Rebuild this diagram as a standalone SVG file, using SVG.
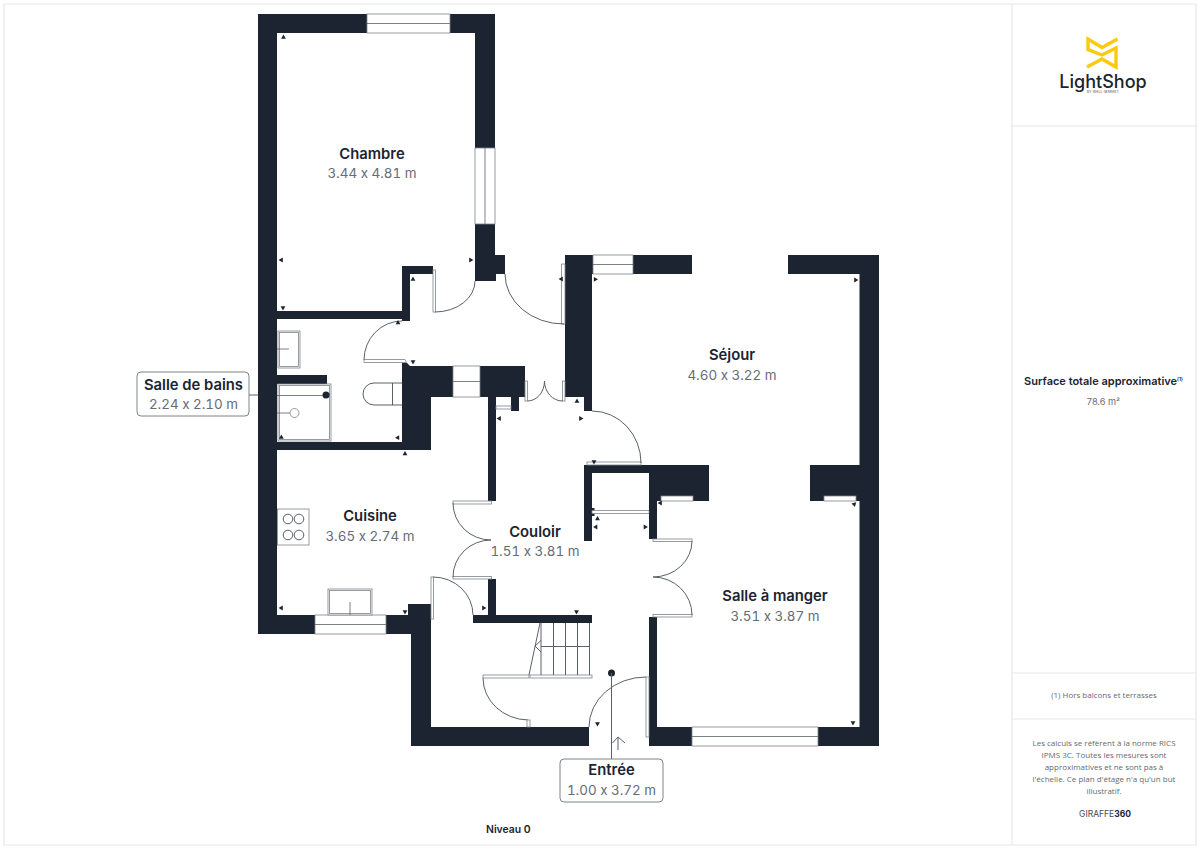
<svg xmlns="http://www.w3.org/2000/svg" xmlns:xlink="http://www.w3.org/1999/xlink" width="1200" height="849" viewBox="0 0 1200 849">
<style>
.w{fill:#1b2430}
.l{fill:none;stroke:#5b6168;stroke-width:.8}
.f{fill:#fff;stroke:#7d838a;stroke-width:.8}
.d{fill:none;stroke:#5b6168;stroke-width:1}
.p{fill:none;stroke:#e8e8e8;stroke-width:1.2}
.n{font:600 14.800px Inter,"Liberation Sans",sans-serif;fill:#1b2430;text-anchor:middle}
.m{font:400 13.400px Inter,"Liberation Sans",sans-serif;fill:#666c74;text-anchor:middle;font-feature-settings:"tnum" 1,"calt" 0}
.s{font:400 8px "Open Sans","Liberation Sans",sans-serif;fill:#666a70;text-anchor:middle}
.k{fill:#1b2430}
</style>
<defs><path id="t" class="k" d="M-2.400-1.800H2.400L0 2.400Z"/></defs>
<rect width="1200" height="849" fill="#fff"/>
<path class="p" d="M4 4H1196V845H4ZM1012 4V845M1012 126H1196M1012 673H1196M1012 719H1196"/>

<g id="walls">
<path class="w" d="M258 14H367V33H277V311H402V266H433V274H410V321H402V319H277V375H327V384H277V442H402V363H407L410 366H453V397H431V450H277V615H315V634H258Z"/>
<path class="w" d="M450 14H495V148H475V33H450Z"/>
<path class="w" d="M475 224H495V255H505V274H496V281H475Z"/>
<path class="w" d="M386 615H408V604H431V727H589V746H411V634H386Z"/>
<path class="w" d="M480 366H525V397H519V411H511V397H496V501H488V397H480Z"/>
<path class="w" d="M565 255H593V274H592V411H584V397H565Z"/>
<path class="w" d="M633 255H692V274H633Z"/>
<path class="w" d="M788 255H879V746H818V727H859.500V501H856V496H824V501H810V465H859.500V274H788Z"/>
<path class="w" d="M584 465H709V501H693V496H661V501H657V539H649V473H592V541H584Z"/>
<path class="w" d="M649 617H657V727H692V746H649Z"/>
<path class="w" d="M488 579H496V615H592V623H473V615H488Z"/>
<rect class="w" x="592" y="508" width="2.500" height="8"/>
</g>

<g id="windows">
<rect class="f" x="367" y="14" width="83" height="19"/><path class="l" d="M367 23.500H450"/>
<rect class="f" x="475" y="148" width="20" height="76"/><path class="l" d="M485 148V224"/>
<rect class="f" x="593" y="255" width="40" height="19"/><path class="l" d="M593 264.500H633"/>
<rect class="f" x="453" y="366" width="27" height="31"/><path class="l" d="M453 381.500H480"/>
<rect class="f" x="315" y="615" width="71" height="19"/><path class="l" d="M315 624.500H386"/>
<rect class="f" x="692" y="727" width="126" height="19"/><path class="l" d="M692 736.500H818"/>
</g>

<g id="doors">
<rect class="f" x="433" y="270" width="2.500" height="42"/><path class="d" d="M435 312A40 31 0 0 0 475 281"/>
<path class="f" d="M561.500 264H565V324H561.500Z"/><path class="d" d="M505 274A59 50 0 0 0 564 324"/>
<path class="f" d="M364 359.500H405L406.500 362.500H364Z"/><path class="d" d="M364 360A38 39 0 0 1 402 321"/>
<rect class="f" x="525" y="381" width="2.500" height="20"/><rect class="f" x="562.500" y="381" width="2.500" height="20"/>
<path class="d" d="M527.500 401A17 20 0 0 0 544.500 381M562.500 401A18 20 0 0 1 544.500 381"/>
<rect class="f" x="496" y="406" width="15" height="3"/>
<rect class="f" x="587" y="462" width="54" height="3"/><path class="d" d="M592 411A49 52 0 0 1 641 463"/>
<rect class="f" x="453" y="501" width="38.500" height="3"/><rect class="f" x="453" y="576.500" width="38.500" height="2.500"/>
<path class="d" d="M453 503A38 37 0 0 0 491 540A38 37 0 0 0 453 577"/>
<rect class="f" x="431" y="577" width="2.500" height="42"/><path class="d" d="M433 577A40 38 0 0 1 473 615"/>
<rect class="f" x="653" y="539" width="39" height="2.500"/><rect class="f" x="653" y="614.500" width="39" height="2.500"/>
<path class="d" d="M692 541A39 36 0 0 1 653 577A39 38 0 0 1 692 615"/>
<rect class="f" x="483" y="675" width="46" height="3"/><rect class="f" x="530" y="675" width="62" height="3"/>
<path class="d" d="M483 678A46 42 0 0 0 528 720"/><rect class="f" x="527" y="720" width="3" height="7"/>
<rect class="f" x="646" y="677" width="3" height="60"/><path class="d" d="M589 727A57 50 0 0 1 646 677"/>
<path class="f" d="M592 510.500H649V513.500H592Z"/>
<rect class="f" x="661" y="496" width="32" height="5"/><rect class="f" x="824" y="496" width="32" height="5"/>
</g>

<g id="stairs">
<path class="d" d="M541 623V675M553.500 623V675M565.500 623V675M577.500 623V675M589.500 623V675M541 646.500H589.500M540 623L529 675M541 640.500L535 646L541 652"/>
</g>

<g id="fixtures">
<rect class="f" x="278" y="331" width="22" height="37" stroke-width="1.500"/><rect class="f" x="279.500" y="332.500" width="19" height="34"/><path class="l" d="M277 349H289"/>
<rect class="f" x="278" y="384" width="53" height="57"/><rect class="f" x="279.500" y="385.500" width="50" height="54"/>
<path class="l" d="M277 395.500H326M277 413H290"/><circle class="k" cx="326" cy="395" r="3.500"/><circle class="f" cx="294.500" cy="413" r="4.500"/>
<path class="d" d="M402 383H374A11 11 0 0 0 374 405H402M392.500 383V405"/>
<rect class="f" x="277.500" y="509" width="31.500" height="36"/>
<g class="d"><circle cx="288" cy="519" r="4.800"/><circle cx="299" cy="519" r="4.800"/><circle cx="288" cy="535" r="4.800"/><circle cx="299" cy="535" r="4.800"/></g>
<rect class="f" x="328" y="589" width="44" height="26"/><rect class="f" x="329.500" y="590.500" width="41" height="23"/><path class="l" d="M350 602V615"/>
</g>

<g id="ticks">
<use xlink:href="#t" transform="translate(283.500 37) rotate(180)"/>
<use xlink:href="#t" transform="translate(281 260) rotate(90)"/>
<use xlink:href="#t" transform="translate(283 308)"/>
<use xlink:href="#t" transform="translate(471 260) rotate(-90)"/>
<use xlink:href="#t" transform="translate(413 279) rotate(180)"/>
<use xlink:href="#t" transform="translate(398 322.500) rotate(180)"/>
<use xlink:href="#t" transform="translate(413 362)"/>
<use xlink:href="#t" transform="translate(561 279) rotate(90)"/>
<use xlink:href="#t" transform="translate(595 279) rotate(150)"/>
<use xlink:href="#t" transform="translate(577 401) rotate(180)"/>
<use xlink:href="#t" transform="translate(581 418.500) rotate(-90)"/>
<use xlink:href="#t" transform="translate(499 418.500) rotate(90)"/>
<use xlink:href="#t" transform="translate(405 453.500) rotate(180)"/>
<use xlink:href="#t" transform="translate(281 437.500) rotate(60)"/>
<use xlink:href="#t" transform="translate(398 438) rotate(-30)"/>
<use xlink:href="#t" transform="translate(594 462)"/>
<use xlink:href="#t" transform="translate(856 280) rotate(-90)"/>
<use xlink:href="#t" transform="translate(854.500 504) rotate(-135)"/>
<use xlink:href="#t" transform="translate(660 503) rotate(90)"/>
<use xlink:href="#t" transform="translate(853 723)"/>
<use xlink:href="#t" transform="translate(405 612)"/>
<use xlink:href="#t" transform="translate(576.500 612)"/>
<use xlink:href="#t" transform="translate(484 608) rotate(-90)"/>
<use xlink:href="#t" transform="translate(597.500 518.500) rotate(180)"/>
<use xlink:href="#t" transform="translate(595.500 527) rotate(90)"/>
<use xlink:href="#t" transform="translate(645.500 527) rotate(-90)"/>
<use xlink:href="#t" transform="translate(597.500 724)"/>
<use xlink:href="#t" transform="translate(281 608) rotate(90)"/>
</g>

<g id="connectors">
<path class="d" d="M249 395H258"/>
<circle class="k" cx="611.500" cy="673" r="3.500"/>
<path class="d" d="M611.500 673V759M618 750V737M612.500 743L618 737L625 743"/>
</g>

<g id="chambre"><text class="n" x="372" y="159">Chambre</text><text class="m" x="372" y="178">3.44 x 4.81 m</text></g>
<g id="sejour"><text class="n" x="732" y="360">Séjour</text><text class="m" x="732" y="380">4.60 x 3.22 m</text></g>
<g id="cuisine"><text class="n" x="370" y="521">Cuisine</text><text class="m" x="370" y="541">3.65 x 2.74 m</text></g>
<g id="couloir"><text class="n" x="535" y="537">Couloir</text><text class="m" x="535" y="556">1.51 x 3.81 m</text></g>
<g id="salle-manger"><text class="n" x="775" y="601">Salle à manger</text><text class="m" x="775" y="621">3.51 x 3.87 m</text></g>
<g id="salle-bains"><rect x="137" y="372" width="112" height="44" rx="4" fill="#fff" stroke="#7d838a"/><text class="n" x="193.500" y="390">Salle de bains</text><text class="m" x="193.500" y="409">2.24 x 2.10 m</text></g>
<g id="entree"><rect x="560" y="759" width="103" height="43" rx="4" fill="#fff" stroke="#7d838a"/><text class="n" x="611.500" y="775">Entrée</text><text class="m" x="611.500" y="795">1.00 x 3.72 m</text></g>
<text x="486" y="833" font-family="Inter,'Liberation Sans',sans-serif" font-size="10.400" font-weight="600" fill="#1b2430">Niveau 0</text>

<g id="logo">
<path fill="none" stroke="#fdc90f" stroke-width="3.400" d="M1117.500 39L1102 47.500L1088 39V49.500L1102 55L1116 48V67L1102 59L1087 67"/>
<text x="1103" y="87.500" text-anchor="middle" font-family="Inter,'Liberation Sans',sans-serif" font-size="18" font-weight="500" fill="#1b2430">LightShop</text>
<text x="1103" y="93" text-anchor="middle" font-family="Inter,'Liberation Sans',sans-serif" font-size="3.300" fill="#444a52" letter-spacing=".2">BY WALL-MARKET</text>
</g>
<g id="panel">
<text x="1103.500" y="385" text-anchor="middle" font-family="Inter,'Liberation Sans',sans-serif" font-size="11" font-weight="600" fill="#1b2430">Surface totale approximative<tspan font-size="5" dy="-4">(1)</tspan></text>
<text x="1103.500" y="405" text-anchor="middle" font-family="Inter,'Liberation Sans',sans-serif" font-size="9.200" fill="#666c74">78.6 m²</text>
<text class="s" x="1104" y="698">(1) Hors balcons et terrasses</text>
<text class="s" x="1104" y="746">Les calculs se réfèrent à la norme RICS</text>
<text class="s" x="1104" y="758">IPMS 3C. Toutes les mesures sont</text>
<text class="s" x="1104" y="770">approximatives et ne sont pas à</text>
<text class="s" x="1104" y="782">l'échelle. Ce plan d'étage n'a qu'un but</text>
<text class="s" x="1104" y="794">illustratif.</text>
<text x="1105" y="817" text-anchor="middle" font-family="Inter,'Liberation Sans',sans-serif" font-size="8.500" fill="#444a52">GIRAFFE<tspan font-weight="700" fill="#1b2430">360</tspan></text>
</g>
</svg>
